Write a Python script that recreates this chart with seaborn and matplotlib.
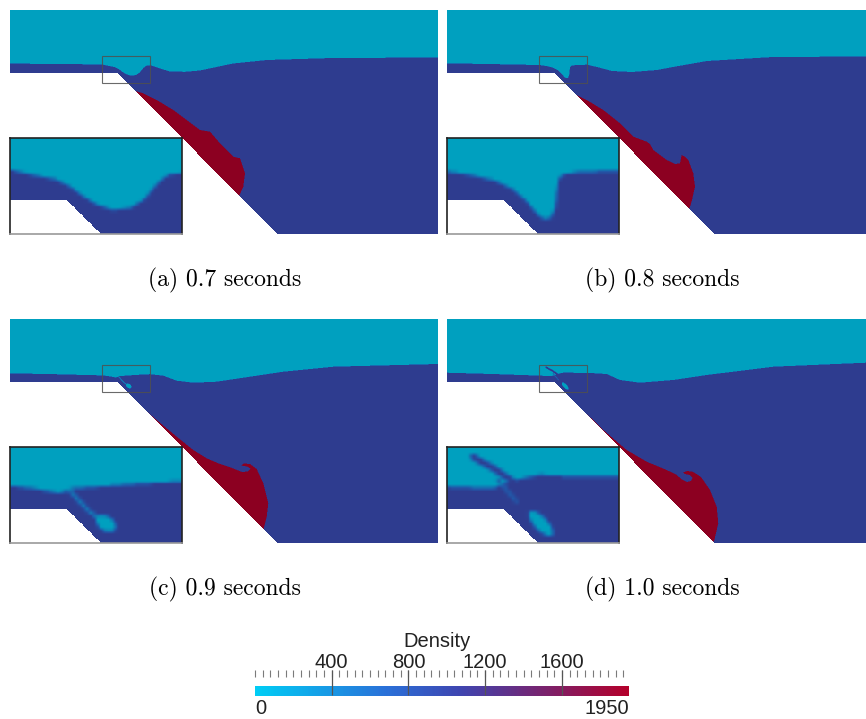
import numpy as np
import matplotlib
matplotlib.use('Agg')
import matplotlib.pyplot as plt
import seaborn as sns
from matplotlib.colors import LinearSegmentedColormap, to_rgb
from matplotlib.path import Path
from matplotlib.patches import Rectangle
from matplotlib.cm import ScalarMappable
from matplotlib.colors import Normalize

# --- densities of the three fluids ---
RHO_AIR = 1.2
RHO_WATER = 1000.0
RHO_HEAVY = 1950.0

# --- geometry (panel units, y measured downward from the top) ---
PANEL_H = 224
SHELF_Y = 63.0
SHELF_X = 108.0
SLOPE_END_X = 267.0
SLOPE = (PANEL_H - SHELF_Y) / (SLOPE_END_X - SHELF_X)
ZOOM_BOX = (92.0, 140.0, 45.5, 72.5)     # x0, x1, y0, y1 of the magnified window

captions = ['(a) 0.7 seconds', '(b) 0.8 seconds', '(c) 0.9 seconds', '(d) 1.0 seconds']
panel_widths = [428, 419, 428, 419]

# --- free surface (air above, water below) ---
surf_x_a = [0, 40, 92, 98, 105, 108.6, 112.3, 116.2, 120.8, 125.7, 129.4, 133.3, 136.1, 140.4,
            150, 160, 175, 190, 223, 257, 323, 428]
surf_y_a = [53.5, 54.0, 54.4, 55.8, 57.2, 59.0, 61.8, 64.2, 65.7, 65.1, 62.8, 58.1, 55.8, 55.3,
            58.5, 61.5, 61.8, 60.5, 53.5, 50.0, 48.0, 47.5]
surf_x_b = [0, 40, 92.3, 99.3, 105.8, 110.5, 114.2, 117.0, 118.9, 121.0, 122.2, 122.7, 123.3, 124.5,
            129.2, 139.9, 150, 165, 185, 210, 226, 260, 326, 419]
surf_y_b = [53.3, 54.0, 55.0, 56.0, 57.6, 60.0, 63.3, 66.6, 68.3, 68.0, 65.0, 60.0, 56.6, 55.7,
            55.0, 54.7, 57.0, 61.0, 62.0, 60.0, 57.0, 51.0, 47.0, 46.5]
surf_x_c = [0, 45, 92.3, 98.3, 105.8, 109.5, 116.9, 126.2, 139.8, 153.3, 166.7, 183.3, 206.7, 240,
            273.3, 323.3, 428]
surf_y_c = [54.3, 55.2, 56.4, 57.1, 58.5, 57.1, 56.6, 55.9, 55.2, 56.7, 61.7, 63.7, 62.7, 57.7,
            52.7, 47.7, 45.0]
surf_x_d = [0, 45, 92, 99.3, 104.8, 108.6, 111.4, 117.9, 127.2, 139.8, 159.7, 173, 193, 226.3,
            259.7, 326.3, 419]
surf_y_d = [53.7, 55.0, 56.6, 56.9, 57.1, 55.7, 54.7, 53.3, 53.8, 53.8, 55.0, 61.0, 63.7, 61.0,
            56.0, 47.7, 43.7]

# --- heavy fluid front running down the slope (outer boundary) ---
red_x_a = [126, 133.3, 146.7, 163.3, 176.7, 190, 200, 210, 223.3, 230, 235, 233.3, 229.3]
red_y_a = [81.2, 83.3, 90, 100, 110, 120, 121.7, 133.3, 146.7, 148.3, 163.3, 176.7, 185.5]
red_x_b = [129.7, 139.7, 156.3, 173, 186.3, 199.7, 203, 206.3, 219.7, 228, 233, 234.7, 237.5,
           241.3, 246.3, 248, 245, 242.5]
red_y_b = [85, 90, 100, 113.3, 126.7, 131.7, 134, 140, 150, 154, 153.3, 145, 146.5,
           150, 163.3, 176.7, 190, 198.5]
red_x_c = [133.3, 146.7, 166.7, 183.3, 196.7, 210, 222, 232, 238, 240.5, 237, 231, 234, 240,
           246.7, 253.3, 258.3, 256.7, 253.5]
red_y_c = [89.5, 101, 117.7, 131, 139.3, 145, 149, 153, 152.5, 149.5, 147.5, 146.5, 144.5, 145,
           150, 164.3, 184.3, 197.7, 210.5]
red_x_d = [139.7, 156.3, 179.7, 199.7, 219.7, 229, 235, 240, 244, 245.5, 243, 238, 236, 240,
           246, 254, 263, 269.7, 271.3, 267]
red_y_d = [94.8, 111, 131, 142.7, 151, 155.5, 160.5, 163, 162, 159, 156, 155, 153.5, 152,
           152.8, 158, 171, 187.7, 204.3, 222.5]

# --- small structures seen in the magnified windows ---
strand_x_c = [108.6, 111.4, 114.2, 116.9]          # air filament entrained into water
strand_y_c = [57.6, 60.8, 63.7, 65.6]
blob_c = (118.8, 67.0, 3.0, 2.0, 35)                # air pocket: cx, cy, a, b, angle
jet_x_d = [99.3, 102.1, 104.8, 107.6, 110.4]        # water jet thrown into the air
jet_y_d = [48.3, 50.0, 51.4, 53.3, 55.2]
streak_x_d = [106.2, 108.6, 111.4]                  # faint air streak in water
streak_y_d = [54.7, 57.6, 60.8]
blob_d = (118.2, 67.0, 4.5, 1.8, 47)

# --- colour map of the density bar ---
cmap_nodes = [0.0, 0.35, 0.55, 1.0]
cmap_colors = ['#00cdf5', '#2a70d8', '#3f45b0', '#b4002a']
SHADE = 0.78   # the rendered field is darker than the legend bar

bar_cmap = LinearSegmentedColormap.from_list('density', list(zip(cmap_nodes, cmap_colors)))
field_cmap = LinearSegmentedColormap.from_list(
    'density_shaded', [(n, tuple(np.array(to_rgb(c)) * SHADE)) for n, c in zip(cmap_nodes, cmap_colors)])

panels = [
    dict(surf=(surf_x_a, surf_y_a), red=(red_x_a, red_y_a), lines=[], blobs=[]),
    dict(surf=(surf_x_b, surf_y_b), red=(red_x_b, red_y_b), lines=[], blobs=[]),
    dict(surf=(surf_x_c, surf_y_c), red=(red_x_c, red_y_c),
         lines=[(strand_x_c, strand_y_c, 0.5, 300.0)], blobs=[(blob_c, RHO_AIR)]),
    dict(surf=(surf_x_d, surf_y_d), red=(red_x_d, red_y_d),
         lines=[(jet_x_d, jet_y_d, 0.85, RHO_WATER), (streak_x_d, streak_y_d, 0.5, 600.0)],
         blobs=[(blob_d, RHO_AIR)]),
]


def near_polyline(X, Y, px, py, hw):
    d = np.full(X.shape, np.inf)
    for i in range(len(px) - 1):
        ax_, ay_, bx, by = px[i], py[i], px[i + 1], py[i + 1]
        vx, vy = bx - ax_, by - ay_
        t = np.clip(((X - ax_) * vx + (Y - ay_) * vy) / (vx * vx + vy * vy), 0, 1)
        d = np.minimum(d, np.hypot(X - ax_ - t * vx, Y - ay_ - t * vy))
    return d < hw


def fluid_density(p, X, Y):
    sx, sy = p['surf']
    rho = np.where(Y < np.interp(X, sx, sy), RHO_AIR, RHO_WATER)
    rx, ry = p['red']
    # close the front through the solid so the slope bounds it
    poly = list(zip(rx, ry)) + [(rx[-1] - 6, ry[-1]), (rx[0] - 6, ry[0])]
    inside = Path(poly).contains_points(np.column_stack([X.ravel(), Y.ravel()])).reshape(X.shape)
    rho[inside] = RHO_HEAVY
    for lx, ly, hw, val in p['lines']:
        rho[near_polyline(X, Y, lx, ly, hw)] = val
    for (cx, cy, a, b, ang), val in p['blobs']:
        th = np.deg2rad(ang)
        u = (X - cx) * np.cos(th) + (Y - cy) * np.sin(th)
        v = -(X - cx) * np.sin(th) + (Y - cy) * np.cos(th)
        rho[(u / a) ** 2 + (v / b) ** 2 < 1] = val
    return rho


def upsample(a, up):
    # bilinear refinement of cell data, like a point-interpolated render
    if up == 1:
        return a
    ny, nx = a.shape
    xc, xf = np.arange(nx) + 0.5, (np.arange(nx * up) + 0.5) / up
    yc, yf = np.arange(ny) + 0.5, (np.arange(ny * up) + 0.5) / up
    tmp = np.array([np.interp(xf, xc, row) for row in a])
    return np.array([np.interp(yf, yc, col) for col in tmp.T]).T


def render(p, x0, x1, y0, y1, cell, ss, up):
    nx, ny = int(round((x1 - x0) / cell)), int(round((y1 - y0) / cell))
    f = cell / ss
    X, Y = np.meshgrid(x0 + (np.arange(nx * ss) + 0.5) * f, y0 + (np.arange(ny * ss) + 0.5) * f)
    rho = fluid_density(p, X, Y).reshape(ny, ss, nx, ss).mean(axis=(1, 3))
    rho = upsample(rho, up)
    d = cell / up
    XC, YC = np.meshgrid(x0 + (np.arange(nx * up) + 0.5) * d, y0 + (np.arange(ny * up) + 0.5) * d)
    solid = (YC > SHELF_Y) & (XC < SHELF_X + (YC - SHELF_Y) / SLOPE)
    rho[solid] = np.nan
    return rho


W, H = 866, 719
fig = plt.figure(figsize=(W / 100, H / 100), dpi=100)
origins = [(10, 10), (447, 10), (10, 319), (447, 319)]
caption_pos = [(225, 280), (662, 280), (225, 589), (662, 589)]

for p, (left, top), pw, cap, (cxp, cyp) in zip(panels, origins, panel_widths, captions, caption_pos):
    ax = fig.add_axes([left / W, 1 - (top + PANEL_H) / H, pw / W, PANEL_H / H])
    field = render(p, 0, pw, 0, PANEL_H, 1.0, 2, 1)
    sns.heatmap(field, ax=ax, cmap=field_cmap, vmin=0, vmax=RHO_HEAVY, cbar=False,
                xticklabels=False, yticklabels=False, rasterized=True)
    zx0, zx1, zy0, zy1 = ZOOM_BOX
    ax.add_patch(Rectangle((zx0, zy0), zx1 - zx0, zy1 - zy0, fill=False,
                           edgecolor='#505050', lw=0.8, alpha=0.85))

    # magnified window in the lower-left corner
    iax = fig.add_axes([left / W, 1 - (top + PANEL_H) / H, 172 / W, 96 / H])
    zoom_field = render(p, zx0, zx1, zy0, zy1, 1.0, 4, 4)
    sns.heatmap(zoom_field, ax=iax, cmap=field_cmap, vmin=0, vmax=RHO_HEAVY, cbar=False,
                xticklabels=False, yticklabels=False, rasterized=True)
    for name, s in iax.spines.items():
        s.set_visible(True)
        s.set_color('#9a9a9a' if name == 'bottom' else '#222222')
        s.set_linewidth(1.2)

    fig.text(cxp / W, 1 - cyp / H, cap, ha='center', va='center', family='cmr10', fontsize=17)

# --- density bar ---
cbar_min, cbar_max = 0, 1950
cbar_major = [400, 800, 1200, 1600]
cbar_minor_step = 40
cax = fig.add_axes([255 / W, 1 - 696 / H, 374 / W, 10 / H])
cb = fig.colorbar(ScalarMappable(Normalize(cbar_min, cbar_max), bar_cmap), cax=cax,
                  orientation='horizontal', ticks=[])
cb.outline.set_visible(False)
trans = cax.get_xaxis_transform()
minor = np.arange(cbar_min, cbar_max, cbar_minor_step)
cax.vlines(minor, 1.9, 2.6, transform=trans, color='#7a7a7a', lw=0.8, clip_on=False)
cax.vlines(cbar_major, 0.15, 2.6, transform=trans, color='#555555', lw=0.9, clip_on=False)
lab = dict(family='Liberation Sans', fontsize=14.5, color='#222222')
for v in cbar_major:
    cax.text(v, 2.75, str(v), transform=trans, ha='center', va='baseline', **lab)
cax.text(cbar_min, -1.75, str(cbar_min), transform=trans, ha='left', va='baseline', **lab)
cax.text(cbar_max, -1.75, str(cbar_max), transform=trans, ha='right', va='baseline', **lab)
cax.text(0.486, 4.93, 'Density', transform=cax.transAxes, ha='center', va='baseline', **lab)

fig.savefig('out.png', dpi=100)
